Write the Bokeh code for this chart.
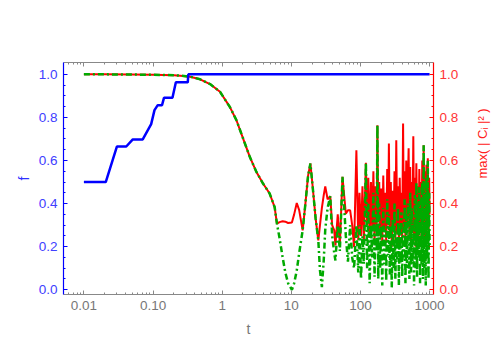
import math
from bokeh.plotting import figure
from bokeh.models import (Range1d, LogAxis, LinearAxis, FixedTicker, Label)
from bokeh.embed import file_html
from bokeh.resources import INLINE

# ---------------- data ----------------
t_blue = [0.01, 0.0207, 0.030, 0.041, 0.051, 0.071, 0.094, 0.105, 0.117,
          0.135, 0.144, 0.191, 0.214, 0.318, 0.324, 1000]
f_blue = [0.5, 0.5, 0.665, 0.665, 0.698, 0.698, 0.769, 0.834, 0.857,
          0.857, 0.891, 0.891, 0.963, 0.963, 1.0, 1.0]

t_vals = [0.01, 0.02, 0.05, 0.1, 0.2, 0.248, 0.344, 0.48, 0.668, 0.93, 1.29,
          1.61, 2.01, 2.51, 3.13, 3.90, 4.86, 5.74, 6.2, 6.76, 7.5, 8.2, 9.0,
          10.2, 11.0, 12.0, 13.0, 14.6, 16.0, 17.5, 18.9, 20.5, 22.5, 24.6,
          26.0, 27.7, 29.5, 31.0, 33.5, 36.6, 39.0, 41.8, 43.5, 47.0, 50.4,
          55.0, 61.5, 66.0, 71.0, 76.0, 81.0, 87.4,
          93, 97, 102, 107, 112, 116, 120, 125, 130, 136, 142, 148, 154, 160,
          166, 172, 176, 181, 187, 193, 200, 207, 214, 221, 228, 236, 244,
          252, 258, 266, 275, 284, 293, 302, 311, 320, 330, 340, 350, 360,
          370, 380, 391, 402, 414, 425, 436, 448, 460, 472, 485, 498, 511,
          525, 539, 553, 567, 582, 597, 612, 628, 644, 660, 677, 694, 711,
          729, 747, 765, 784, 803, 822, 841, 861, 881, 901, 922, 943, 965,
          987, 1000]

red_vals = [1.0, 1.0, 0.999, 0.998, 0.996, 0.994, 0.989, 0.977, 0.955, 0.919,
            0.849, 0.787, 0.702, 0.617, 0.547, 0.493, 0.447, 0.384, 0.307,
            0.314, 0.318, 0.316, 0.31, 0.312, 0.35, 0.403, 0.37, 0.276, 0.40,
            0.53, 0.586, 0.47, 0.33, 0.229, 0.30, 0.38, 0.44, 0.48, 0.42,
            0.434, 0.30, 0.276, 0.206, 0.35, 0.206, 0.524, 0.353, 0.369,
            0.369, 0.30, 0.198, 0.648,
            0.23, 0.45, 0.25, 0.48, 0.22, 0.42, 0.589, 0.30, 0.52, 0.24, 0.50,
            0.28, 0.55, 0.22, 0.48, 0.30, 0.764, 0.32, 0.50, 0.25, 0.47, 0.21,
            0.53, 0.28, 0.45, 0.22, 0.56, 0.30, 0.679, 0.24, 0.50, 0.20, 0.46,
            0.27, 0.55, 0.23, 0.694, 0.26, 0.48, 0.21, 0.52, 0.30, 0.45, 0.22,
            0.772, 0.28, 0.55, 0.20, 0.60, 0.30, 0.48, 0.657, 0.25, 0.57, 0.22,
            0.50, 0.28, 0.713, 0.24, 0.52, 0.20, 0.587, 0.30, 0.48, 0.22, 0.56,
            0.28, 0.50, 0.20, 0.60, 0.30, 0.671, 0.25, 0.55, 0.22, 0.58, 0.30,
            0.61, 0.23, 0.52, 0.35]

green_vals = [1.0, 1.0, 0.999, 0.998, 0.996, 0.994, 0.989, 0.977, 0.955, 0.919,
              0.849, 0.787, 0.702, 0.617, 0.547, 0.493, 0.447, 0.384, 0.307,
              0.24, 0.15, 0.08, 0.03, 0.0, 0.03, 0.09, 0.17, 0.276, 0.40,
              0.53, 0.586, 0.47, 0.33, 0.229, 0.09, 0.012, 0.14, 0.28, 0.38,
              0.434, 0.25, 0.17, 0.136, 0.30, 0.18, 0.524, 0.25, 0.13, 0.30,
              0.15, 0.10, 0.30,
              0.08, 0.30, 0.05, 0.25, 0.12, 0.35, 0.589, 0.10, 0.40, 0.03, 0.30,
              0.15, 0.45, 0.06, 0.35, 0.18, 0.764, 0.05, 0.40, 0.10, 0.30, 0.02,
              0.38, 0.12, 0.28, 0.04, 0.42, 0.16, 0.35, 0.07, 0.30, 0.01, 0.33,
              0.10, 0.40, 0.05, 0.25, 0.14, 0.38, 0.02, 0.30, 0.12, 0.36, 0.06,
              0.28, 0.15, 0.42, 0.03, 0.35, 0.10, 0.40, 0.20, 0.05, 0.45, 0.08,
              0.38, 0.12, 0.30, 0.02, 0.44, 0.10, 0.50, 0.06, 0.40, 0.15, 0.48,
              0.03, 0.42, 0.12, 0.50, 0.05, 0.671, 0.10, 0.45, 0.02, 0.52, 0.15,
              0.60, 0.05, 0.45, 0.20]

x_ticks = [0.01, 0.1, 1, 10, 100, 1000]
x_tick_labels = ["0.01", "0.10", "1", "10", "100", "1000"]
y_ticks = [0.0, 0.2, 0.4, 0.6, 0.8, 1.0]
y_tick_labels = ["0.0", "0.2", "0.4", "0.6", "0.8", "1.0"]

# ---------------- figure ----------------
FONT = "Liberation Sans"
FS = "13.5px"
AFS = "14px"

x_minor = []
for d in [0.001, 0.01, 0.1, 1, 10, 100, 1000]:
    for k in range(2, 10):
        x_minor.append(d * k)
y_minor = [i * 0.05 for i in range(0, 21)]

p = figure(width=500, height=349, x_axis_type="log",
           x_range=Range1d(10 ** -2.295, 10 ** 3.057),
           y_range=Range1d(-0.022, 1.055),
           output_backend="svg", toolbar_location=None,
           min_border_left=63, min_border_right=65,
           min_border_top=62, min_border_bottom=55)
p.outline_line_color = None
p.xgrid.visible = False
p.ygrid.visible = False
p.background_fill_color = "white"

xt = FixedTicker(ticks=x_ticks, minor_ticks=x_minor)
yt = FixedTicker(ticks=y_ticks, minor_ticks=y_minor)


def style_x(ax):
    ax.ticker = xt
    ax.axis_line_color = "#888888"
    ax.major_tick_line_color = "#888888"
    ax.minor_tick_line_color = "#888888"
    ax.major_tick_in = 4
    ax.major_tick_out = 0
    ax.minor_tick_in = 2
    ax.minor_tick_out = 0
    ax.major_label_text_font = FONT
    ax.major_label_text_font_size = FS
    ax.major_label_text_color = "#777777"


bx = p.xaxis[0]
style_x(bx)
bx.major_label_overrides = {v: s for v, s in zip(x_ticks, x_tick_labels)}
bx.major_label_standoff = 6
bx.axis_label = "t"
bx.axis_label_text_font = FONT
bx.axis_label_text_font_size = AFS
bx.axis_label_text_font_style = "normal"
bx.axis_label_text_color = "#777777"
bx.axis_label_standoff = 8

top = LogAxis()
style_x(top)
top.major_label_overrides = {v: "" for v in x_ticks}
top.major_label_standoff = 0
p.add_layout(top, "above")

ly = p.yaxis[0]
ly.ticker = yt
ly.major_label_overrides = {v: s for v, s in zip(y_ticks, y_tick_labels)}
ly.axis_line_color = "#0000ff"
ly.axis_line_width = 1.2
ly.major_tick_line_color = "#0000ff"
ly.minor_tick_line_color = "#0000ff"
ly.major_tick_in = 4
ly.major_tick_out = 0
ly.minor_tick_in = 2
ly.minor_tick_out = 0
ly.major_label_text_font = FONT
ly.major_label_text_font_size = FS
ly.major_label_text_color = "#4040ff"
ly.major_label_standoff = 6
ly.axis_label = "f"
ly.axis_label_text_font = FONT
ly.axis_label_text_font_size = AFS
ly.axis_label_text_font_style = "normal"
ly.axis_label_text_color = "#3030ff"
ly.axis_label_standoff = 4

ry = LinearAxis()
ry.ticker = yt
ry.major_label_overrides = {v: s for v, s in zip(y_ticks, y_tick_labels)}
ry.axis_line_color = "#ff0000"
ry.axis_line_width = 1.2
ry.major_tick_line_color = "#ff0000"
ry.minor_tick_line_color = "#ff0000"
ry.major_tick_in = 4
ry.major_tick_out = 0
ry.minor_tick_in = 2
ry.minor_tick_out = 0
ry.major_label_text_font = FONT
ry.major_label_text_font_size = FS
ry.major_label_text_color = "#ff3535"
ry.major_label_standoff = 6
ry.axis_label = "max( | Cᵢ |² )"
ry.axis_label_orientation = math.pi / 2
ry.axis_label_text_font = FONT
ry.axis_label_text_font_size = "13px"
ry.axis_label_text_font_style = "normal"
ry.axis_label_text_color = "#ff2020"
ry.axis_label_standoff = 21
p.add_layout(ry, "right")

# subscript "i" that sits under "max" in the right axis label
sub = Label(x=428, y=93, x_units="screen", y_units="screen", text="i",
            angle=math.pi / 2, text_align="center", text_baseline="middle",
            text_font=FONT, text_font_size="10px", text_font_style="italic",
            text_color="#ff2020")
p.add_layout(sub)

p.line(t_vals, red_vals, line_color="#ff0000", line_width=2)
p.line(t_vals, green_vals, line_color="#00aa00", line_width=2.5,
       line_dash="6 3 2 3")
p.line(t_blue, f_blue, line_color="#0000ff", line_width=2.5)

with open("out.html", "w") as fh:
    fh.write(file_html(p, INLINE))
